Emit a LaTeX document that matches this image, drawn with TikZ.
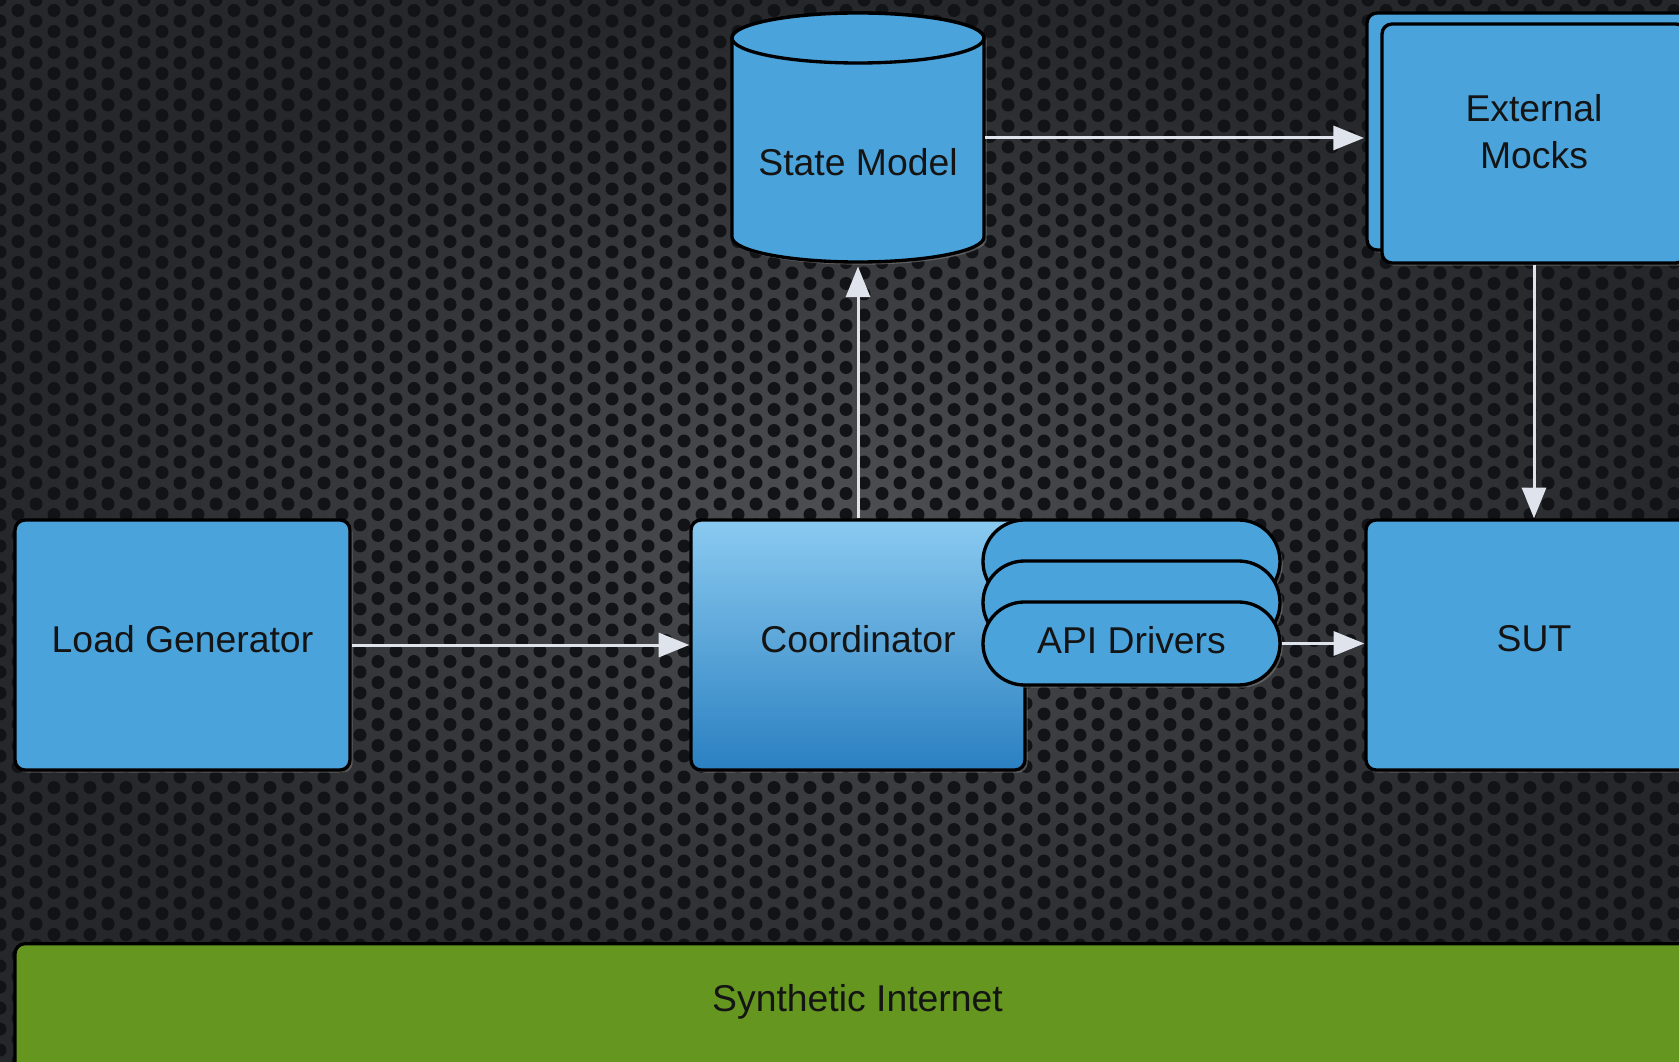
\documentclass[tikz,border=0pt]{standalone}
\usepackage{fontspec}
\setmainfont{Liberation Sans}
\usetikzlibrary{arrows.meta,shapes.misc,shadows}

\definecolor{boxblue}{HTML}{4AA3DB}
\definecolor{lightblue}{HTML}{8ACAF0}
\definecolor{deepblue}{HTML}{2A80C1}
\definecolor{netgreen}{HTML}{65961F}
\definecolor{meshgrey}{HTML}{4E4F53}
\definecolor{meshdark}{HTML}{26272A}
\definecolor{holeblack}{HTML}{121316}
\definecolor{arrowwhite}{HTML}{DFE4EC}
\definecolor{labelblack}{HTML}{141414}

\tikzset{every picture/.style={line width=0.75pt}}
\tikzset{
  caption/.style={font=\fontsize{28}{35}\selectfont, text=labelblack, inner sep=0pt},
  block/.style={caption, draw=black, line width=2.5pt, fill=boxblue, rounded corners=7.5pt, text depth=9.75pt,
    drop shadow={shadow xshift=2pt, shadow yshift=-2pt, opacity=0.55}},
  driver/.style={caption, rounded rectangle, draw=black, line width=2.5pt, fill=boxblue, text depth=5pt,
    minimum width=222.75pt, minimum height=62.25pt, drop shadow={shadow xshift=2pt, shadow yshift=-2pt, opacity=0.55}},
  tank/.style={draw=black, line width=2.5pt, fill=boxblue},
  flow/.style={draw=arrowwhite, line width=2.25pt, -{Triangle[length=23pt,width=18pt]}},
}

\begin{document}
\begin{tikzpicture}[x=0.75pt,y=0.75pt,yscale=-1,xscale=1]
\useasboundingbox (0,0) rectangle (1679,1062);
\clip (0,0) rectangle (1679,1062);

% Background
\shade[inner color=meshgrey, outer color=meshdark] (0,0) rectangle (1679,1062);
\foreach \i in {0,...,94}{
  \foreach \j in {0,...,51}{
    \fill[holeblack] ({\i*18},{\j*21+mod(\i,2)*10.5}) circle [radius=6.5];
  }
}

% Text Node
\node[block, minimum width=251.25pt, minimum height=187.5pt] (loadgen) at (182.5,645) {Load Generator};
% Text Node
\node[block, minimum width=250.5pt, minimum height=187.5pt, top color=lightblue, middle color=boxblue, bottom color=deepblue] (coord) at (858,645) {Coordinator};
% Text Node
\node[driver] (apitop) at (1131.5,561.5) {};
\node[driver] (apimid) at (1131.5,602.5) {};
\node[driver] (api) at (1131.5,643.5) {API Drivers};
% Text Node
\node[block, minimum width=252pt, minimum height=187.5pt] (sut) at (1534,645) {SUT};
% Text Node
\node[block, minimum width=242.25pt, minimum height=177.75pt] (emback) at (1528.5,131.5) {};
\node[block, minimum width=228pt, minimum height=179.25pt] (em) at (1534,143.5) {};
\node[caption, align=center] (emtext) at ([yshift=-9pt]em.center) {External\\Mocks};
% Text Node
\draw[tank, drop shadow={shadow xshift=2pt, shadow yshift=-2pt, opacity=0.55}] (732,38) -- (732,237) arc[start angle=180, end angle=0, x radius=126, y radius=25] -- (984,38) arc[start angle=0, end angle=-180, x radius=126, y radius=25] -- cycle;
\draw[tank] (858,38) ellipse [x radius=126, y radius=25];
\node[caption, minimum width=189pt, minimum height=149.25pt] (smodel) at (858,162.5) {State Model};
% Text Node
\node[block, anchor=north, minimum width=1263.75pt, text height=51pt, text depth=67.5pt, fill=netgreen] (net) at (857.5,942) {Synthetic Internet};

% Connection
\draw[flow] (loadgen.east) -- (coord.west);
% Connection
\draw[flow, shorten >=3pt] (coord.north) -- (smodel.south);
% Connection
\draw[flow, shorten >=1pt] ([yshift=-18.4pt]smodel.east) -- ([yshift=-18.4pt]smodel.east -| emback.west);
% Connection
\draw[flow] (em.south) -- (sut.north);
% Connection
\draw[flow] (api.east) -- (api.east -| sut.west);

\end{tikzpicture}
\end{document}
